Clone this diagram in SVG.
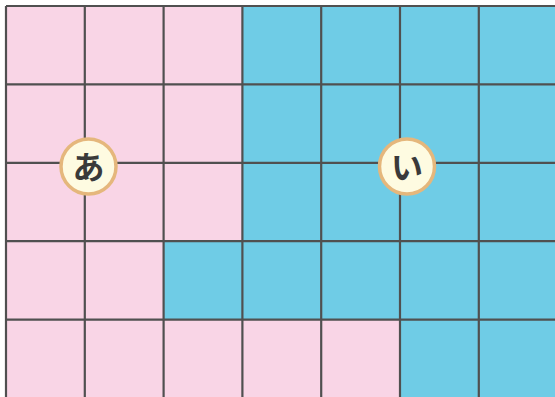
<svg xmlns="http://www.w3.org/2000/svg" width="555" height="397" viewBox="0 0 555 397">
<style>
.p{fill:#F9D5E6}.b{fill:#6FCCE6}
.g{stroke:#505050;stroke-width:2.2;fill:none}
.c{fill:#FEFBE1;stroke:#E5B77C;stroke-width:3.5}
.t{font-family:"Noto Sans CJK JP",sans-serif;font-weight:bold;font-size:32px;fill:#3a3a3a;text-anchor:middle}
</style>
<rect x="0" y="0" width="555" height="397" fill="#fff"/>
<g id="regions">
<rect class="b" x="6" y="6" width="551" height="392"/>
<path class="p" d="M6 6H242.4V241.2H163.6V319.6H400V398H6Z"/>
</g>
<g id="grid" class="g">
<path d="M6 6V398M84.8 6V398M163.6 6V398M242.4 6V398M321.2 6V398M400 6V398M478.8 6V398"/>
<path d="M6 6H557M6 84.4H557M6 162.8H557M6 241.2H557M6 319.6H557"/>
</g>
<g id="node-a">
<circle class="c" cx="88.5" cy="166.5" r="27.5"/>
<text class="t" x="88.5" y="178.5">あ</text>
</g>
<g id="node-i">
<circle class="c" cx="407" cy="166.5" r="27.5"/>
<text class="t" x="407" y="178.5">い</text>
</g>
</svg>
